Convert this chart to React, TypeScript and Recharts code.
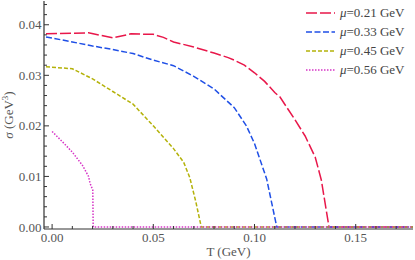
import { Line, LineChart, XAxis, YAxis } from "recharts";

// σ(T) curves
const T_021 = [-0.003, 0.018, 0.03, 0.039, 0.05, 0.055, 0.06, 0.07, 0.08, 0.087, 0.09, 0.095, 0.1, 0.105, 0.11, 0.1126, 0.12, 0.125, 0.13, 0.133, 0.1368, 0.18];
const S_021 = [0.0382, 0.0384, 0.0374, 0.0382, 0.0381, 0.0375, 0.0366, 0.0356, 0.0344, 0.0335, 0.033, 0.032, 0.0305, 0.0288, 0.0266, 0.0257, 0.0212, 0.018, 0.0138, 0.0093, 0, 0];

const T_033 = [-0.003, 0.01, 0.02, 0.03, 0.04, 0.05, 0.06, 0.07, 0.08, 0.09, 0.096, 0.1, 0.106, 0.111, 0.18];
const S_033 = [0.0376, 0.0366, 0.0358, 0.0351, 0.0343, 0.033, 0.0319, 0.0298, 0.0273, 0.0236, 0.02, 0.0165, 0.0095, 0, 0];

const T_045 = [-0.003, 0.01, 0.02, 0.03, 0.04, 0.05, 0.06, 0.065, 0.068, 0.071, 0.0737, 0.18];
const S_045 = [0.0317, 0.0313, 0.0293, 0.0268, 0.0243, 0.02, 0.0155, 0.0128, 0.0098, 0.005, 0, 0];

const T_056 = [0, 0.005, 0.01, 0.015, 0.018, 0.0188, 0.0201, 0.0203, 0.18];
const S_056 = [0.0189, 0.0169, 0.0148, 0.0122, 0.01, 0.0086, 0.0073, 0, 0];

const SERIES_NAMES = ["0.21", "0.33", "0.45", "0.56"];
const SERIES_T = [T_021, T_033, T_045, T_056];
const SERIES_S = [S_021, S_033, S_045, S_056];
const COLORS = ["#e8174a", "#1f4fe6", "#b4b20a", "#d634c6"];
const DASHES = ["11 3", "6 2.5", "4 2", "1.5 1.5"];

const X_TICKS = [0, 0.01, 0.02, 0.03, 0.04, 0.05, 0.06, 0.07, 0.08, 0.09, 0.1, 0.11, 0.12, 0.13, 0.14, 0.15, 0.16, 0.17];
const X_MAJOR = [0, 0.05, 0.1, 0.15];
const Y_TICKS = [0, 0.002, 0.004, 0.006, 0.008, 0.01, 0.012, 0.014, 0.016, 0.018, 0.02, 0.022, 0.024, 0.026, 0.028, 0.03, 0.032, 0.034, 0.036, 0.038, 0.04, 0.042, 0.044];
const Y_MAJOR = [0, 0.01, 0.02, 0.03, 0.04];

const X_DOMAIN = [-0.004, 0.1783];
const Y_DOMAIN = [-0.0004, 0.0447];

const FONT = "'Liberation Serif', 'DejaVu Serif', serif";
const FRAME = "#333";
const TEXT = "#555";

const isMajor = (v: number, majors: number[]) => majors.some((m) => Math.abs(m - v) < 1e-9);

const series = SERIES_T.map((ts, i) => ts.map((t, j) => ({ T: t, s: SERIES_S[i][j] })));

function Tick({ x, y, payload, side }: any) {
  const major = isMajor(payload.value, side === "bottom" || side === "top" ? X_MAJOR : Y_MAJOR);
  const len = major ? 5 : 3;
  const v = payload.value as number;
  if (side === "bottom") {
    return (
      <g>
        <line x1={x} x2={x} y1={y} y2={y - len} stroke={FRAME} strokeWidth={1} />
        {major && (
          <text x={x} y={y + 12.5} textAnchor="middle" fontSize={13} fontFamily={FONT} fill={TEXT}>
            {v.toFixed(2)}
          </text>
        )}
      </g>
    );
  }
  if (side === "top") return <line x1={x} x2={x} y1={y} y2={y + len} stroke={FRAME} strokeWidth={1} />;
  if (side === "right") return <line x1={x} x2={x - len} y1={y} y2={y} stroke={FRAME} strokeWidth={1} />;
  return (
    <g>
      <line x1={x} x2={x + len} y1={y} y2={y} stroke={FRAME} strokeWidth={1} />
      {major && (
        <text x={x - 2.5} y={y} dy="0.35em" textAnchor="end" fontSize={13} fontFamily={FONT} fill={TEXT}>
          {v.toFixed(2)}
        </text>
      )}
    </g>
  );
}

function YTitle({ viewBox }: any) {
  const cx = viewBox.x + 13;
  const cy = viewBox.y + viewBox.height / 2;
  return (
    <text x={cx} y={cy} transform={`rotate(-90 ${cx} ${cy})`} textAnchor="middle" fontSize={13} fontFamily={FONT} fill={TEXT}>
      <tspan fontStyle="italic">σ</tspan> (GeV<tspan dy={-5} fontSize={9}>3</tspan><tspan dy={5}>)</tspan>
    </text>
  );
}

function XTitle({ viewBox }: any) {
  return (
    <text x={viewBox.x + viewBox.width / 2} y={viewBox.y + 27} textAnchor="middle" fontSize={13} fontFamily={FONT} fill={TEXT}>
      T (GeV)
    </text>
  );
}

export default function App() {
  return (
    <div style={{ position: "relative", width: 415, height: 260, background: "#fff" }}>
      <style>{"body{margin:0}"}</style>
      <LineChart width={415} height={260} margin={{ top: 1, right: 2, left: 0, bottom: 0 }}>
        <XAxis
          xAxisId={0} type="number" dataKey="T" domain={X_DOMAIN} ticks={X_TICKS} interval={0}
          allowDataOverflow height={31} tickSize={0} tickMargin={0}
          axisLine={{ stroke: FRAME, strokeWidth: 1.2 }} tickLine={false}
          tick={(p: any) => <Tick {...p} side="bottom" />}
          label={{ content: (p: any) => <XTitle {...p} /> }}
        />
        <XAxis
          xAxisId="top" orientation="top" type="number" dataKey="T" domain={X_DOMAIN} ticks={X_TICKS} interval={0}
          allowDataOverflow height={0} tickSize={0} tickMargin={0}
          axisLine={{ stroke: FRAME, strokeWidth: 1.2 }} tickLine={false}
          tick={(p: any) => <Tick {...p} side="top" />}
        />
        <YAxis
          yAxisId={0} type="number" domain={Y_DOMAIN} ticks={Y_TICKS} interval={0}
          allowDataOverflow width={44} tickSize={0} tickMargin={0}
          axisLine={{ stroke: FRAME, strokeWidth: 1.2 }} tickLine={false}
          tick={(p: any) => <Tick {...p} side="left" />}
          label={{ content: (p: any) => <YTitle {...p} /> }}
        />
        <YAxis
          yAxisId="right" orientation="right" type="number" domain={Y_DOMAIN} ticks={Y_TICKS} interval={0}
          allowDataOverflow width={0} tickSize={0} tickMargin={0}
          axisLine={{ stroke: FRAME, strokeWidth: 1.2 }} tickLine={false}
          tick={(p: any) => <Tick {...p} side="right" />}
        />
        {series.map((d, i) => (
          <Line
            key={SERIES_NAMES[i]} data={d} dataKey="s" type="linear"
            stroke={COLORS[i]} strokeWidth={1.5} strokeDasharray={DASHES[i]}
            dot={false} activeDot={false} isAnimationActive={false}
          />
        ))}
      </LineChart>
      <div style={{ position: "absolute", left: 306, top: 3, fontFamily: FONT, fontSize: 13, color: "#444" }}>
        {SERIES_NAMES.map((name, i) => (
          <div key={name} style={{ display: "flex", alignItems: "center", height: 19 }}>
            <svg width={29} height={4}>
              <line x1={0} x2={29} y1={2} y2={2} stroke={COLORS[i]} strokeWidth={1.5} strokeDasharray={DASHES[i]} />
            </svg>
            <span style={{ marginLeft: 5 }}>
              <i>μ</i>=0.{name.slice(2)} GeV
            </span>
          </div>
        ))}
      </div>
    </div>
  );
}
